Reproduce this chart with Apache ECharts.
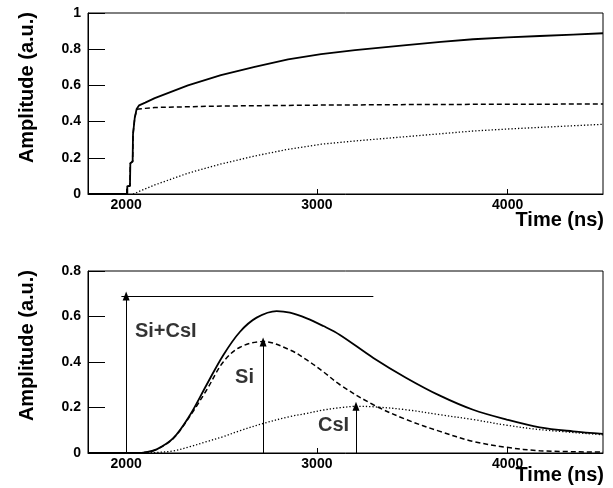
<!DOCTYPE html>
<html>
<head>
<meta charset="utf-8">
<script src="https://cdn.jsdelivr.net/npm/echarts@6/dist/echarts.min.js"></script>
<style>
html,body{margin:0;padding:0;background:#fff;}
#chart{width:613px;height:488px;}
</style>
</head>
<body>
<div id="chart"></div>
<script>
// Time axis ticks (ns)
var timeTicks = [2000, 3000, 4000];

// Upper panel: collected charge vs time
var upperTotal = [[1800,0],[2006,0],[2006,0.044],[2020,0.044],[2022,0.17],[2034,0.18],[2036,0.33],[2043,0.34],[2045,0.42],[2053,0.43],[2055,0.47],[2064,0.48],[2068,0.49],[2100,0.505],[2150,0.53],[2324,0.60],[2497,0.657],[2674,0.703],[2849,0.744],[3022,0.773],[3200,0.795],[3469,0.823],[3650,0.84],[3819,0.855],[4000,0.865],[4168,0.873],[4343,0.881],[4500,0.888]];
var upperSi = [[1800,0],[2006,0],[2006,0.044],[2020,0.044],[2022,0.17],[2034,0.18],[2036,0.33],[2043,0.34],[2045,0.42],[2053,0.43],[2055,0.465],[2066,0.47],[2150,0.478],[2500,0.486],[3000,0.491],[3500,0.494],[4000,0.496],[4500,0.497]];
var upperCsI = [[2036,0],[2150,0.05],[2324,0.115],[2497,0.166],[2674,0.21],[2849,0.247],[3022,0.275],[3200,0.293],[3469,0.317],[3650,0.333],[3819,0.348],[4000,0.359],[4168,0.368],[4343,0.377],[4500,0.385]];

// Lower panel: shaped signals
var lowerTotal = [[1800,0],[2060,0],[2100,0.003],[2160,0.016],[2247,0.065],[2335,0.167],[2422,0.30],[2509,0.43],[2597,0.533],[2684,0.595],[2789,0.624],[2859,0.617],[2947,0.592],[3034,0.558],[3121,0.519],[3296,0.418],[3469,0.33],[3645,0.252],[3819,0.19],[3995,0.147],[4168,0.113],[4343,0.095],[4500,0.084]];
var lowerSi = [[1800,0],[2060,0],[2100,0.003],[2160,0.016],[2247,0.064],[2335,0.163],[2422,0.277],[2509,0.40],[2597,0.465],[2719,0.49],[2859,0.453],[2947,0.409],[3034,0.357],[3121,0.30],[3296,0.212],[3469,0.147],[3645,0.095],[3819,0.051],[3995,0.025],[4168,0.01],[4500,0.004]];
var lowerCsI = [[1800,0],[2080,0],[2170,0.003],[2247,0.009],[2335,0.028],[2422,0.05],[2509,0.072],[2597,0.098],[2719,0.13],[2859,0.16],[2947,0.174],[3034,0.189],[3121,0.199],[3208,0.205],[3300,0.203],[3469,0.19],[3645,0.168],[3819,0.147],[3995,0.122],[4168,0.103],[4500,0.08]];

// Amplitude markers: [time, height]
var peakTotal = [2000, 0.69];
var peakTotalLine = [1975, 3296];
var peakSi = [2718, 0.488];
var peakCsI = [3205, 0.205];

// Component labels: [time, amplitude, text]
var componentLabels = [[2046, 0.532, 'Si+CsI'], [2571, 0.33, 'Si'], [3006, 0.123, 'CsI']];

var FONT = 'Liberation Sans, Arial, Helvetica, sans-serif';

function xAxisDef(idx) {
  return {
    type: 'value', gridIndex: idx, min: 1800, max: 4500,
    axisLine: {show: true, lineStyle: {color: '#000', width: 1}},
    axisTick: {show: true, inside: true, length: 5, customValues: timeTicks, lineStyle: {color: '#000'}},
    axisLabel: {customValues: timeTicks, formatter: function (v) { return String(v); },
      color: '#000', fontFamily: FONT, fontWeight: 'bold', fontSize: 14, margin: 4},
    splitLine: {show: false}
  };
}
function yAxisDef(idx, max) {
  return {
    type: 'value', gridIndex: idx, min: 0, max: max, interval: 0.2,
    axisLine: {show: true, lineStyle: {color: '#000', width: 1}},
    axisTick: {show: true, inside: true, length: 17, lineStyle: {color: '#000'}},
    axisLabel: {color: '#000', fontFamily: FONT, fontWeight: 'bold', fontSize: 14, margin: 7},
    splitLine: {show: false}
  };
}
function curve(idx, data, style, width, smooth) {
  return {
    type: 'line', xAxisIndex: idx, yAxisIndex: idx, data: data,
    showSymbol: false, smooth: smooth, silent: true,
    lineStyle: {color: '#000', width: width, type: style}
  };
}
function arrow(t, h) {
  return [{coord: [t, 0], symbol: 'none'}, {coord: [t, h], symbol: 'triangle'}];
}

var chart = echarts.init(document.getElementById('chart'), null, {renderer: 'canvas'});
chart.setOption({
  animation: false,
  backgroundColor: '#fff',
  grid: [
    {left: 88, top: 13, width: 515, height: 181, show: true, borderColor: '#000', borderWidth: 1},
    {left: 88, top: 271, width: 515, height: 182, show: true, borderColor: '#000', borderWidth: 1}
  ],
  xAxis: [xAxisDef(0), xAxisDef(1)],
  yAxis: [yAxisDef(0, 1), yAxisDef(1, 0.8)],
  series: [
    curve(0, upperCsI, [1.3, 2], 1.3, false),
    curve(0, upperSi, [5, 3], 1.5, false),
    curve(0, upperTotal, 'solid', 1.8, false),
    curve(1, lowerCsI, [1.3, 2], 1.3, 0.35),
    curve(1, lowerSi, [5, 3], 1.5, 0.35),
    curve(1, lowerTotal, 'solid', 1.8, 0.35),
    {
      type: 'scatter', xAxisIndex: 1, yAxisIndex: 1, symbolSize: 0, silent: true,
      data: componentLabels,
      label: {
        show: true, position: 'right', distance: 0,
        formatter: function (p) { return p.data[2]; },
        color: '#000', fontFamily: FONT, fontWeight: 'bold', fontSize: 20
      },
      markLine: {
        silent: true, animation: false,
        symbolSize: [7, 9],
        label: {show: false},
        lineStyle: {color: '#000', width: 1, type: 'solid'},
        data: [
          arrow(peakTotal[0], peakTotal[1]),
          arrow(peakSi[0], peakSi[1]),
          arrow(peakCsI[0], peakCsI[1]),
          [{coord: [peakTotalLine[0], peakTotal[1]], symbol: 'none'}, {coord: [peakTotalLine[1], peakTotal[1]], symbol: 'none'}]
        ]
      }
    }
  ],
  graphic: [
    {type: 'text', x: 27, y: 12, rotation: Math.PI / 2,
     style: {text: 'Amplitude (a.u.)', textAlign: 'right', textVerticalAlign: 'middle', fill: '#000', font: 'bold 20px ' + FONT}},
    {type: 'text', x: 27, y: 270, rotation: Math.PI / 2,
     style: {text: 'Amplitude (a.u.)', textAlign: 'right', textVerticalAlign: 'middle', fill: '#000', font: 'bold 20px ' + FONT}},
    {type: 'text', x: 604, y: 220,
     style: {text: 'Time (ns)', textAlign: 'right', textVerticalAlign: 'middle', fill: '#000', font: 'bold 20px ' + FONT}},
    {type: 'text', x: 604, y: 475,
     style: {text: 'Time (ns)', textAlign: 'right', textVerticalAlign: 'middle', fill: '#000', font: 'bold 20px ' + FONT}}
  ]
});
</script>
</body>
</html>
